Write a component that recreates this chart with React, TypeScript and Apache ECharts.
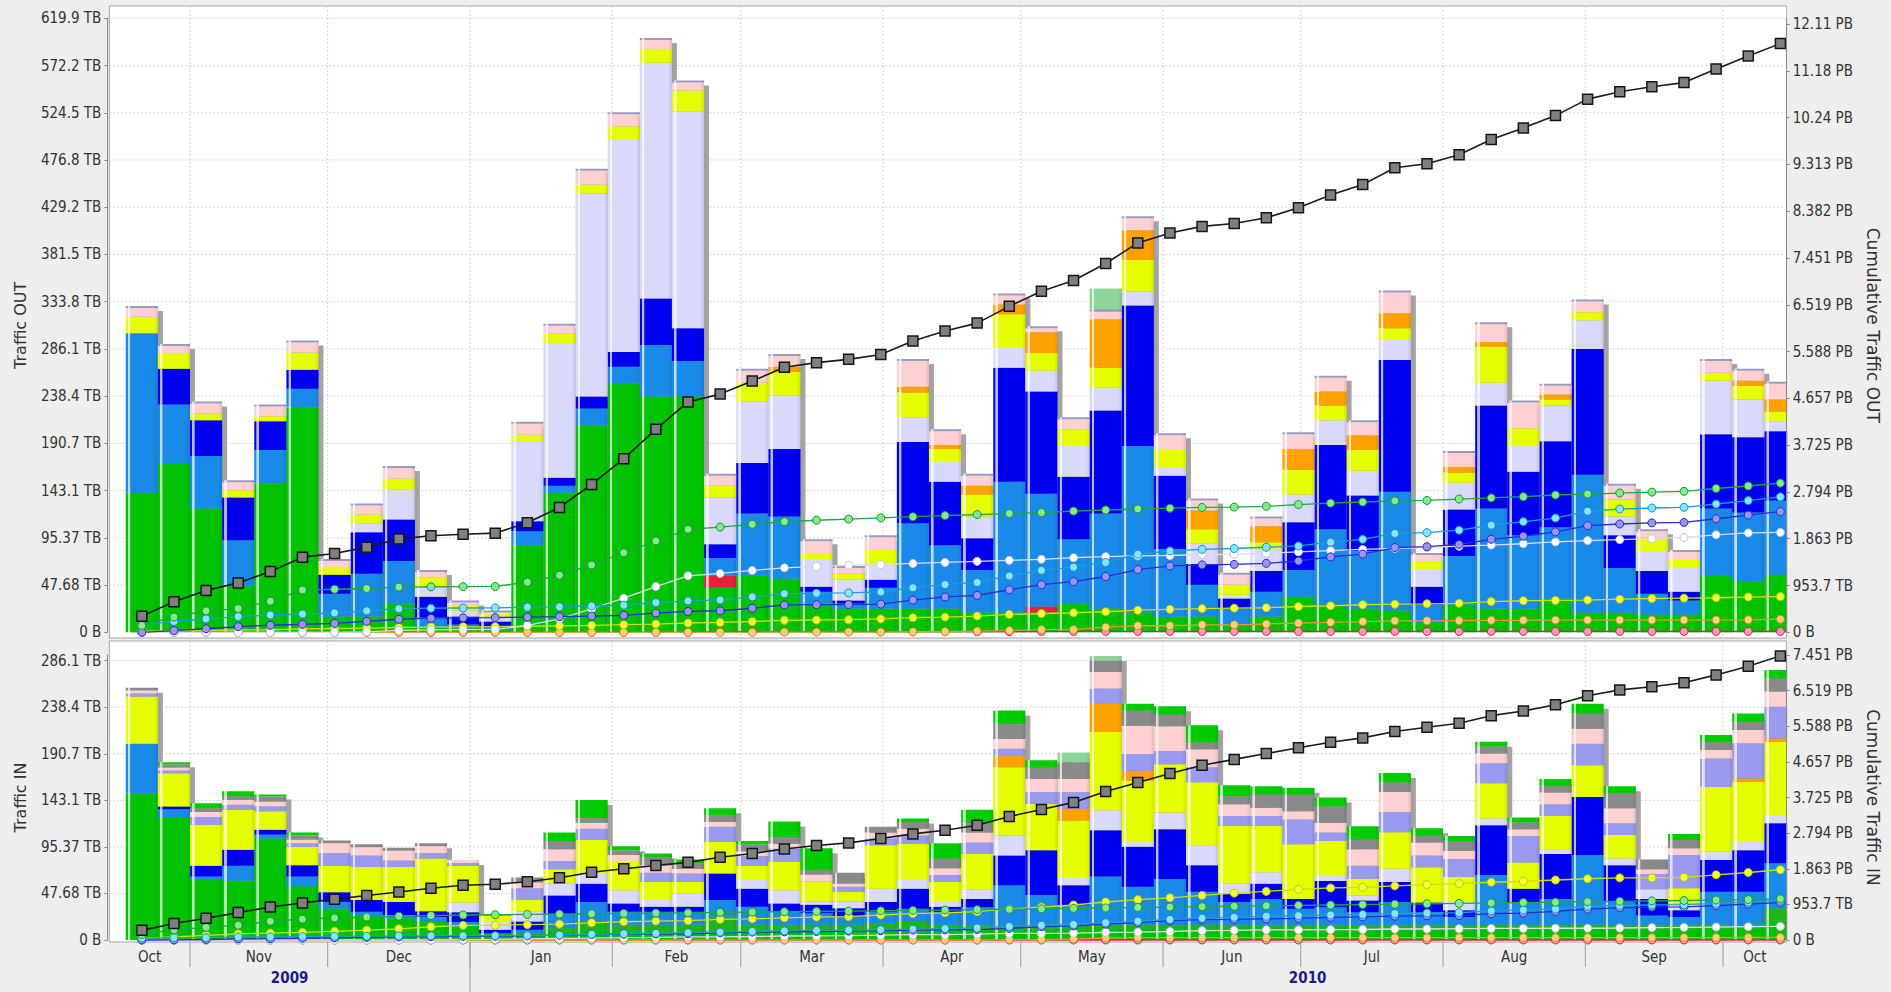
import React, { useEffect, useRef } from 'react';
import * as echarts from 'echarts';

// ---------------- time frame (weekly bars) ----------------
const DAY = 86400000;
const FIRST_WEEK_MID = Date.UTC(2009, 9, 21, 12);
const WEEKS: number[] = Array.from({ length: 52 }, (_, i) => FIRST_WEEK_MID + i * 7 * DAY);
const X_MIN = Date.UTC(2009, 9, 14, 10);
const X_MAX = Date.UTC(2010, 9, 14, 21);

const MONTH_LABELS = ['Oct', 'Nov', 'Dec', 'Jan', 'Feb', 'Mar', 'Apr', 'May', 'Jun', 'Jul', 'Aug', 'Sep', 'Oct'];
const MONTH_STARTS = [
  Date.UTC(2009, 9, 1), Date.UTC(2009, 10, 1), Date.UTC(2009, 11, 1), Date.UTC(2010, 0, 1),
  Date.UTC(2010, 1, 1), Date.UTC(2010, 2, 1), Date.UTC(2010, 3, 1), Date.UTC(2010, 4, 1),
  Date.UTC(2010, 5, 1), Date.UTC(2010, 6, 1), Date.UTC(2010, 7, 1), Date.UTC(2010, 8, 1),
  Date.UTC(2010, 9, 1),
];
const MONTH_END_LAST = Date.UTC(2010, 10, 1);
const YEAR_LABELS = ['2009', '2010'];
const YEAR_STARTS = [Date.UTC(2009, 0, 1), Date.UTC(2010, 0, 1)];
const YEAR_ENDS = [Date.UTC(2010, 0, 1), Date.UTC(2011, 0, 1)];

// ---------------- axis units (TB, 1 PB = 1024 TB) ----------------
const TB_STEP = 50e6 / 1048576; // 47.68 TB
const CUM_STEP = 1000e6 / 1048576; // 953.7 TB

// ---------------- Traffic OUT (TB per week) ----------------
const greenOut = [141,171,125,47,150,227,16,16,29,5,4,3,88,141,209,251,238,238,45,57,54,29,24,24,24,24,20,20,20,29,24,20,16,16,7,16,36,28,24,22,10,28,24,24,34,20,20,18,18,57,51,58];
const redOut = [0,0,0,0,0,0,0,0,0,0,0,0,0,0,0,0,0,0,12,0,0,0,0,0,0,0,0,0,6,0,0,0,0,0,0,0,0,0,0,0,0,0,0,0,0,0,0,0,0,0,0,0];
const midOut = [161,59,53,46,34,19,23,43,43,10,4,3,14,7,17,17,52,36,18,63,63,12,5,21,86,64,43,132,114,65,96,168,68,32,17,25,27,76,58,120,18,49,101,74,72,139,45,21,14,68,70,75];
const darkOut = [0,36,36,43,29,19,19,42,42,21,8,5,10,8,12,15,47,33,14,51,68,5,3,8,82,64,32,115,103,63,104,142,74,21,10,21,48,85,56,133,18,47,104,64,87,127,33,23,9,75,76,70];
const lavOut = [0,0,0,0,0,0,0,9,30,9,6,5,80,136,205,215,238,219,47,62,54,28,21,14,25,21,22,21,21,32,23,14,8,21,4,21,28,25,25,21,18,27,23,27,36,29,19,20,24,54,38,10];
const yellowOut = [16.5,16,7,7.5,5,17.5,8,9,11,10,5,3,7.5,9.5,9,13,14,21,12,19,24,6,6,16,25,12,22,33,18,16,20,32,18,14,10,8,25,15,21,11,8,10,36,17,6,8,17,14,8,8,14,10];
const orangeOut = [0,0,0,0,0,0,0,0,0,0,0,0,0,0,0,0,0,0,0,0,5,0,0,0,6,4,9,10,21,0,49,30,0,19,0,16,21,14,15,15,0,6,5,0,5,0,0,0,0,0,5,12];
const pinkOut = [9,7,10,8,10,10,6,9,11,6,3,1,11,8,14,12,9,8,10,12,11,12,6,13,26,14,10,9,4,10,8,12,15,10,10,8,15,14,13,21,6,14,18,26,9,11,14,6,8,12,10,16];
const topOut = [2,2,2,2,2,2,2,2,2,2,2,2,2,2,2,2,2,2,2,2,2,2,2,2,2,2,2,2,2,2,2,2,2,2,2,2,2,2,2,2,2,2,2,2,2,2,2,2,2,2,2,2];
const paleGreenOut = [0,0,0,0,0,0,0,0,0,0,0,0,0,0,0,0,0,0,0,0,0,0,0,0,0,0,0,0,0,0,21,0,0,0,0,0,0,0,0,0,0,0,0,0,0,0,0,0,0,0,0,0];

// ---------------- Traffic IN (TB per week) ----------------
const redIn = [0,0,0,0,0,0,0,0,0,0,0,0,0,0,0,0,0,0,0,0,0,0,0,0,0,0,0,0,0,0,0,0,0,0,0,0,0,0,0,0,0,0,0,0,0,0,0,0,0,0,0,0];
const greenIn = [150,125,61.5,61,104,55,32,25.5,22,18.5,15,7,7,9,10,9,9,8,10,9,9,9,8,9,10,9,11,11,12,11,12,12,11,12,11,11,11,11,10,11,11,10,12,11,11,12,11,10,11,12,12,20];
const green2In = [0,0,0,0,0,0,0,0,0,0,0,0,0,3,8.5,6.5,6.5,7.5,14,6.5,6.5,6.5,7.5,8,8.5,6.5,4,4,3.5,4,3.5,3.5,4,3.5,4,4,4,4,5,4,4,5,3.5,4,4,3.5,4,5,4,3.5,3.5,12.5];
const midIn = [51,9,3.5,15,4,10,7,3.5,3.5,5,3.5,0,3.5,15,20.5,13.5,13.5,13.5,17,18.5,13.5,12,8.5,12,13.5,13.5,18.5,41,30.5,20.5,49.5,39,47.5,34,24,27,17,18.5,13.5,24,13.5,8.5,51,24,27,71.5,24,10,8.5,34,34,46];
const darkIn = [0,2.7,11,16.5,5,11.5,10,12,13.5,6,10,3.5,8.5,18.5,18.5,8.5,5,5,27,18.5,8.5,8.5,8.5,10,20.5,5,8.5,30.5,46,20.5,47.5,41,51,27,8.5,15.5,10,27,12,20.5,10,7,51,13.5,46,59.5,37.5,17,7,32.5,42.5,41];
const lavIn = [0,0,0,0,0,0,0,0,0,0,10,8,10,12,10,13.5,7,13.5,0,10,13.5,3.5,7,13.5,10,5,10,20.5,0,8.5,20.5,5,17,20.5,10,12,0,5,5,13.5,0,8.5,7,0,5,0,7,10,7,8.5,8.5,8.5];
const yellowIn = [48.5,34,42,41,19,19,27,34,36,54,37.5,6,12,15,35,29,18.5,12,32.5,13.5,29,20.5,10,44.5,36,20.5,36,70,47.5,58,80,63,49.5,64.5,59.5,47.5,56,36,17,37.5,36,25.5,36,27,34,32.5,24,0,15.5,66.5,61.5,75];
const orangeIn = [0,0,0,0,0,0,0,0,0,0,0,0,0,0,0,0,0,0,0,0,0,0,0,0,0,0,0,12,0,12,29,10,0,0,0,0,0,0,0,0,0,0,0,0,0,0,0,0,0,0,3.5,3.5];
const periIn = [3,3,8,5,5,3.5,13,11.5,6.5,5.5,3,1,12,8.5,11.5,0,9.5,8.5,15.5,10,13.5,0,5,7,8.5,7,12,7,12,17,15.5,17,13.5,15.5,10,10,25.5,8.5,13.5,20.5,12,18.5,20.5,27,12,22,12,15.5,34,29,36,32.5];
const pinkIn = [3,3,5,5,5,4,10,8.5,10,7,3,1.2,6,12,6,7,7.5,5,5,5,5,7,3.5,6,7,7,10,10,13.5,13.5,17,29,25.5,18.5,12,8.5,8.5,10,17,20.5,13.5,8.5,10,7,12,15.5,15.5,5,7,8.5,13.5,15.5];
const grayIn = [3,3.3,4,4,5,4,3,3,3,3,0,0,5,8.5,5,5,8.5,6,7,7,7,5,11,6,7,10,10,15.5,12,17,12,15.5,12,7,8.5,13.5,17,17,10,10,7,10,7,7,7,15.5,15.5,10,8.5,8.5,8.5,13.5];
const topGreenIn = [0,2,5,5,2,3,0,0,0,0,0,0,0,8.5,18.5,4,3.5,3.5,7,3.5,16,22,0,0,3.5,15.5,13.5,13.5,7,0,0,7,8.5,17.5,11,8.5,7,9,13.5,9.5,7.5,5,5,5,7,10,7,0,6,7,8.5,8.5];
const paleGreenIn = [0,0,0,0,0,0,0,0,0,0,0,0,0,0,0,0,0,0,0,0,0,0,0,0,0,0,0,0,0,10,4.5,0,0,0,0,0,0,0,0,0,0,0,0,0,0,0,0,0,0,0,0,0];

// ---------------- styles ----------------
const C = {
  green: '#00c200', green2: '#1eb41e', red: '#e8203c', mid: '#1a8ae8', dark: '#0000f0',
  lav: '#d9d9fc', yellow: '#e6ff00', orange: '#ffa200', peri: '#9a9af0', pink: '#ffd0d0',
  gray: '#8a8a8a', topGray: '#9a9ac4', topGreen: '#00cc00', paleGreen: '#8fd49a',
};
type LS = { line: string; fill: string; border: string };
const L: Record<string, LS> = {
  green: { line: '#1ca83c', fill: '#86ea8a', border: '#18963a' },
  cyan: { line: '#1a9fd4', fill: '#86e4ff', border: '#1a90c8' },
  purple: { line: '#2a2ad8', fill: '#9b95f2', border: '#2a2acc' },
  white: { line: '#dcdcf0', fill: '#ffffff', border: '#c4c4dc' },
  yellow: { line: '#d0e000', fill: '#f2ff3c', border: '#bccc00' },
  orange: { line: '#e89a30', fill: '#ffd27a', border: '#d48a28' },
  red: { line: '#e0203c', fill: '#ff9ab8', border: '#d81e4a' },
};

type SDef = { name: string; color: string; data: number[]; line?: LS };
const OUT_SERIES: SDef[] = [
  { name: 'green', color: C.green, data: greenOut, line: L.green },
  { name: 'red', color: C.red, data: redOut, line: L.red },
  { name: 'midBlue', color: C.mid, data: midOut, line: L.cyan },
  { name: 'darkBlue', color: C.dark, data: darkOut, line: L.purple },
  { name: 'lavender', color: C.lav, data: lavOut, line: L.white },
  { name: 'yellow', color: C.yellow, data: yellowOut, line: L.yellow },
  { name: 'orange', color: C.orange, data: orangeOut, line: L.orange },
  { name: 'pink', color: C.pink, data: pinkOut },
  { name: 'top', color: C.topGray, data: topOut },
  { name: 'paleGreen', color: C.paleGreen, data: paleGreenOut },
];
const IN_SERIES: SDef[] = [
  { name: 'red', color: C.red, data: redIn, line: L.red },
  { name: 'green', color: C.green, data: greenIn, line: L.green },
  { name: 'green2', color: C.green2, data: green2In },
  { name: 'midBlue', color: C.mid, data: midIn, line: L.cyan },
  { name: 'darkBlue', color: C.dark, data: darkIn, line: L.purple },
  { name: 'lavender', color: C.lav, data: lavIn, line: L.white },
  { name: 'yellow', color: C.yellow, data: yellowIn, line: L.yellow },
  { name: 'orange', color: C.orange, data: orangeIn, line: L.orange },
  { name: 'periwinkle', color: C.peri, data: periIn },
  { name: 'pink', color: C.pink, data: pinkIn },
  { name: 'gray', color: C.gray, data: grayIn },
  { name: 'topGreen', color: C.topGreen, data: topGreenIn },
  { name: 'paleGreen', color: C.paleGreen, data: paleGreenIn },
];

// ---------------- layout ----------------
const BG = '#eeeeee';
const PLOT_LEFT = 109.3;
const PLOT_RIGHT = 1786.7;
const PLOT_W = PLOT_RIGHT - PLOT_LEFT;
const PX_PER_MS = PLOT_W / (X_MAX - X_MIN);
const BAR_W = 7 * DAY * PX_PER_MS;
const SHADOW_DX = 5 / PX_PER_MS;

const COND = '"DejaVu Sans Condensed", "Liberation Sans Narrow", "DejaVu Sans", sans-serif';
const SANS = '"DejaVu Sans", sans-serif';

type Panel = {
  series: SDef[]; zeroY: number; leftTopY: number; rightTopY: number; plotY: number; plotH: number;
  leftSteps: number; rightSteps: number; leftName: string; rightName: string;
};
const PANELS: Panel[] = [
  { series: OUT_SERIES, zeroY: 632.3, leftTopY: 18.3, rightTopY: 24, plotY: 6, plotH: 632,
    leftSteps: 13, rightSteps: 13, leftName: 'Traffic OUT', rightName: 'Cumulative Traffic OUT' },
  { series: IN_SERIES, zeroY: 940, leftTopY: 660.7, rightTopY: 655, plotY: 641, plotH: 301,
    leftSteps: 6, rightSteps: 8, leftName: 'Traffic IN', rightName: 'Cumulative Traffic IN' },
];

const cumsum = (a: number[]) => { let s = 0; return a.map((v) => (s += v)); };

function hexRgb(h: string) { const n = parseInt(h.slice(1), 16); return [(n >> 16) & 255, (n >> 8) & 255, n & 255]; }
function mix(h: string, t: number, to = 255) {
  const [r, g, b] = hexRgb(h);
  const f = (c: number) => Math.round(c + (to - c) * t);
  return `rgb(${f(r)},${f(g)},${f(b)})`;
}
function barFill(c: string) {
  const hi = mix(c, 0.72);
  return new echarts.graphic.LinearGradient(0, 0, 1, 0, [
    { offset: 0, color: c }, { offset: 0.06, color: c },
    { offset: 0.075, color: hi }, { offset: 0.135, color: hi },
    { offset: 0.15, color: c }, { offset: 0.88, color: c },
    { offset: 1, color: mix(c, 0.1, 0) },
  ]);
}

const isMultiple = (v: number, step: number) => Math.abs(v / step - Math.round(v / step)) < 1e-6;
const fmtLeft = (v: number) => {
  if (Math.abs(v) < 1e-9) return '0 B';
  if (!isMultiple(v, TB_STEP)) return '';
  return `${v.toPrecision(4)} TB`;
};
const fmtRight = (v: number) => {
  if (Math.abs(v) < 1e-9) return '0 B';
  if (!isMultiple(v, CUM_STEP)) return '';
  return v < 1024 ? `${v.toPrecision(4)} TB` : `${(v / 1024).toPrecision(4)} PB`;
};

// axis label items for the bottom time axis
type AxisItem = { text: string; center: number; start: number; year: boolean };
const AXIS_ITEMS: AxisItem[] = [
  ...MONTH_LABELS.map((text, i) => {
    const s = MONTH_STARTS[i];
    const e = i + 1 < MONTH_STARTS.length ? MONTH_STARTS[i + 1] : MONTH_END_LAST;
    const cs = Math.max(s, X_MIN), ce = Math.min(e, X_MAX);
    return { text, center: (cs + ce) / 2, start: s, year: false };
  }),
  ...YEAR_LABELS.map((text, i) => ({
    text, center: (Math.max(YEAR_STARTS[i], X_MIN) + YEAR_ENDS[i]) / 2, start: YEAR_STARTS[i], year: true,
  })),
];

function buildOption() {
  const xAxis: any[] = [];
  const yAxis: any[] = [];
  const grid: any[] = [];
  const series: any[] = [];
  const graphic: any[] = [];

  PANELS.forEach((p, pi) => {
    const xi = pi * 2, xs = pi * 2 + 1, yl = pi * 2, yr = pi * 2 + 1;
    const gridTop = Math.min(p.leftTopY, p.rightTopY);
    const gridH = p.zeroY - gridTop;
    const leftMax = p.leftSteps * TB_STEP * (gridH / (p.zeroY - p.leftTopY));
    const rightMax = p.rightSteps * CUM_STEP * (gridH / (p.zeroY - p.rightTopY));
    const leftVals = Array.from({ length: p.leftSteps + 1 }, (_, k) => k * TB_STEP);
    const rightVals = Array.from({ length: p.rightSteps + 1 }, (_, k) => k * CUM_STEP);

    grid.push({ left: PLOT_LEFT, width: PLOT_W, top: gridTop, height: gridH, containLabel: false });
    graphic.push({
      type: 'rect', z: -10, silent: true,
      shape: { x: PLOT_LEFT, y: p.plotY, width: PLOT_W, height: p.plotH },
      style: { fill: '#ffffff', stroke: '#a4a4a4', lineWidth: 1 },
    });
    // masks the part of the last (clipped) bar that runs past the plot's right edge
    graphic.push({
      type: 'rect', z: 8, silent: true,
      shape: { x: PLOT_RIGHT + 0.5, y: p.plotY - 1, width: 40, height: p.plotH + 2 },
      style: { fill: BG },
    });
    xAxis.push({ type: 'value', gridIndex: pi, min: X_MIN, max: X_MAX, show: false });
    xAxis.push({ type: 'value', gridIndex: pi, min: X_MIN - SHADOW_DX, max: X_MAX - SHADOW_DX, show: false });
    yAxis.push({
      type: 'value', gridIndex: pi, position: 'left', offset: 2, min: 0, max: leftMax, interval: TB_STEP,
      axisLine: { show: true, lineStyle: { color: '#8a8a8a' } },
      axisTick: { show: true, length: 3, lineStyle: { color: '#8a8a8a' }, customValues: leftVals },
      axisLabel: { formatter: fmtLeft, color: '#333', fontSize: 15, fontFamily: COND, margin: 6, customValues: leftVals },
      splitLine: { show: false },
      name: p.leftName, nameLocation: 'middle', nameGap: 79,
      nameTextStyle: { fontSize: 16, color: '#333', fontFamily: SANS },
    });
    yAxis.push({
      type: 'value', gridIndex: pi, position: 'right', min: 0, max: rightMax, interval: CUM_STEP, z: 10,
      axisLine: { show: true, lineStyle: { color: '#8a8a8a' } },
      axisTick: { show: true, length: 3, lineStyle: { color: '#8a8a8a' }, customValues: rightVals },
      axisLabel: { formatter: fmtRight, color: '#333', fontSize: 15, fontFamily: COND, margin: 6, customValues: rightVals },
      splitLine: { show: false },
      name: p.rightName, nameLocation: 'middle', nameRotate: -90, nameGap: 78,
      nameTextStyle: { fontSize: 17, color: '#333', fontFamily: SANS },
    });

    // horizontal grid lines at the left-axis ticks
    series.push({
      type: 'custom', xAxisIndex: xi, yAxisIndex: yl, z: 1, silent: true, clip: false,
      data: leftVals.slice(1).map((v) => [X_MIN, v]),
      renderItem: (params: any, api: any) => {
        const y = api.coord([X_MIN, api.value(1)])[1];
        return {
          type: 'line', silent: true,
          shape: { x1: PLOT_LEFT, y1: y, x2: PLOT_RIGHT, y2: y },
          style: { stroke: '#d2d2d2', lineWidth: 1, lineDash: [2, 2] },
        };
      },
    });
    // vertical month grid lines
    series.push({
      type: 'custom', xAxisIndex: xi, yAxisIndex: yl, z: 1, silent: true, clip: false,
      data: MONTH_STARTS.filter((t) => t > X_MIN && t < X_MAX).map((t) => [t, 0]),
      renderItem: (params: any, api: any) => {
        const x = api.coord([api.value(0), 0])[0];
        return {
          type: 'line', silent: true,
          shape: { x1: x, y1: p.plotY, x2: x, y2: p.plotY + p.plotH },
          style: { stroke: '#d2d2d2', lineWidth: 1, lineDash: [2, 2] },
        };
      },
    });

    // totals, bar shadow
    const totals = WEEKS.map((_, i) => p.series.reduce((s, d) => s + d.data[i], 0));
    const drop = 5 * (leftMax / gridH);
    series.push({
      type: 'bar', name: 'shadow', xAxisIndex: xs, yAxisIndex: yl, z: 2, silent: true, barWidth: BAR_W,
      encode: { x: 1, y: 0 },
      data: WEEKS.map((t, i) => [Math.max(0, totals[i] - drop), t]),
      itemStyle: { color: new echarts.graphic.LinearGradient(0, 0, 1, 0, [
        { offset: 0, color: '#7c7c7c' }, { offset: 1, color: '#a6a6a6' }]) },
    });

    // stacked bars (value dimension first so that the stack runs along y)
    p.series.forEach((d) => {
      series.push({
        type: 'bar', name: d.name, stack: `panel${pi}`, xAxisIndex: xi, yAxisIndex: yl, z: 3, silent: true,
        barWidth: BAR_W, encode: { x: 1, y: 0 },
        data: WEEKS.map((t, i) => [d.data[i], t]),
        itemStyle: { color: barFill(d.color) },
      });
    });

    // cumulative lines
    const lineDefs = p.series.filter((d) => d.line);
    const order = ['red', 'orange', 'yellow', 'lavender', 'darkBlue', 'midBlue', 'green'];
    order.forEach((nm) => {
      const d = lineDefs.find((s) => s.name === nm);
      if (!d || !d.line) return;
      const cs = cumsum(d.data);
      series.push({
        type: 'line', name: `cum-${d.name}`, xAxisIndex: xi, yAxisIndex: yr, z: 4, silent: true, clip: false,
        data: WEEKS.map((t, i) => [t, cs[i]]),
        symbol: 'circle', symbolSize: 8, showSymbol: true,
        lineStyle: { color: d.line.line, width: 1.3 },
        itemStyle: { color: d.line.fill, borderColor: d.line.border, borderWidth: 1 },
      });
    });
    const cumTotal = cumsum(totals);
    series.push({
      type: 'line', name: 'cum-total', xAxisIndex: xi, yAxisIndex: yr, z: 5, silent: true, clip: false,
      data: WEEKS.map((t, i) => [t, cumTotal[i]]),
      symbol: 'rect', symbolSize: 10, showSymbol: true,
      lineStyle: { color: '#1a1a1a', width: 1.6 },
      itemStyle: { color: '#808080', borderColor: '#161616', borderWidth: 1.5 },
    });

    if (pi === 1) {
      const baseY = p.plotY + p.plotH;
      series.push({
        type: 'custom', xAxisIndex: xi, yAxisIndex: yl, z: 5, silent: true, clip: false,
        data: AXIS_ITEMS.map((it) => [it.center, 0]),
        renderItem: (params: any, api: any) => {
          const it = AXIS_ITEMS[params.dataIndex];
          const pc = api.coord([it.center, 0]);
          const ps = api.coord([it.start, 0]);
          const children: any[] = [{
            type: 'text', x: pc[0], y: it.year ? baseY + 36 : baseY + 15,
            style: {
              text: it.text, fill: it.year ? '#1c1c86' : '#333',
              font: it.year ? `bold 15px ${COND}` : `15px ${COND}`,
              align: 'center', verticalAlign: 'middle',
            },
          }];
          if (it.start > X_MIN && it.start < X_MAX) {
            children.push({
              type: 'line',
              shape: { x1: ps[0], y1: baseY, x2: ps[0], y2: it.year ? baseY + 50 : baseY + 25 },
              style: { stroke: '#9c9c9c', lineWidth: 1 },
            });
          }
          return { type: 'group', children };
        },
      });
    }
  });

  return {
    animation: false,
    backgroundColor: BG,
    grid, xAxis, yAxis, series, graphic,
  };
}

export default function App() {
  const ref = useRef<HTMLDivElement>(null);
  useEffect(() => {
    if (!ref.current) return;
    const chart = echarts.init(ref.current, null, { renderer: 'svg', width: 1891, height: 992 });
    chart.setOption(buildOption() as any);
    return () => chart.dispose();
  }, []);
  return <div ref={ref} style={{ position: 'absolute', left: 0, top: 0, width: 1891, height: 992 }} />;
}
